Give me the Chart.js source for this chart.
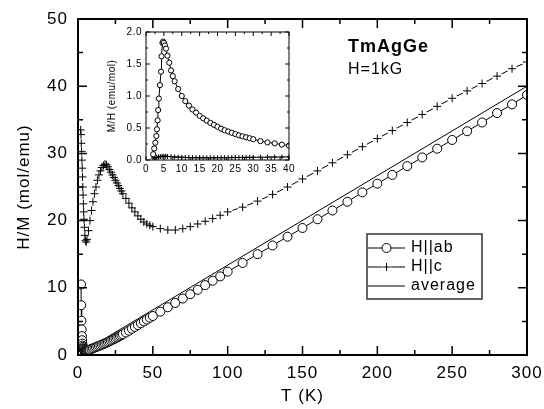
<!DOCTYPE html>
<html>
<head>
<meta charset="utf-8">
<script src="https://cdn.jsdelivr.net/npm/chart.js@4.4.0/dist/chart.umd.min.js"></script>
<style>
  html, body { margin: 0; padding: 0; background: #fff; }
  #wrap { position: relative; width: 544px; height: 409px; }
  #main { position: absolute; left: 0; top: 0; }
  #inset { position: absolute; left: 100px; top: 22px; }
</style>
</head>
<body>
<div id="wrap">
  <canvas id="main" width="544" height="409"></canvas>
  <canvas id="inset" width="196" height="158"></canvas>
</div>
<script>
// main panel: H/M vs T
const abT = [2.0, 2.15, 2.3, 2.45, 2.6, 2.75, 2.9, 3.05, 3.25, 3.4, 3.6, 3.9, 4.2, 4.35, 4.6, 4.8, 5.0, 5.3, 5.6, 6, 6.5, 7, 7.5, 8, 9,
  10, 11, 12, 13, 14, 15, 16, 17, 18, 19, 20, 21, 22, 23, 24, 25, 26, 27, 28, 29, 30,
  32, 34, 36, 38, 40, 42, 44, 46, 48, 50, 55, 60, 65, 70, 75, 80, 85, 90, 95, 100,
  110, 120, 130, 140, 150, 160, 170, 180, 190, 200, 210, 220, 230, 240, 250, 260, 270, 280, 290, 300];
const abHM = [10.5, 7.4, 5.1, 3.8, 2.8, 2.2, 1.7, 1.4, 1.2, 1.0, 0.9, 0.8, 0.7, 0.62, 0.55, 0.54, 0.55, 0.56, 0.58, 0.61, 0.66, 0.71, 0.76, 0.81, 0.9,
  1.0, 1.09, 1.18, 1.27, 1.36, 1.45, 1.54, 1.63, 1.73, 1.83, 1.93, 2.04, 2.15, 2.26, 2.37, 2.48, 2.6, 2.72, 2.84, 2.96, 3.1,
  3.35, 3.62, 3.9, 4.17, 4.45, 4.72, 5.0, 5.27, 5.55, 5.8, 6.45, 7.1, 7.75, 8.4, 9.05, 9.7, 10.4, 11.05, 11.7, 12.4,
  13.7, 15.0, 16.3, 17.6, 18.9, 20.2, 21.5, 22.8, 24.2, 25.5, 26.8, 28.1, 29.4, 30.7, 32.0, 33.3, 34.6, 36.0, 37.3, 38.7];

const cT = [1.8, 2.0, 2.2, 2.4, 2.6, 2.8, 3.0, 3.2, 3.4, 3.6, 3.8, 4.0, 4.3, 4.6, 5, 5.5, 6, 7, 8, 9,
  10, 11, 12, 13, 14, 15, 16, 17, 18, 19, 20, 21, 22, 23, 24, 25, 26, 27, 28, 29, 30,
  32, 34, 36, 38, 40, 42, 44, 46, 48, 50, 55, 60, 65, 70, 75, 80, 85, 90, 95, 100,
  110, 120, 130, 140, 150, 160, 170, 180, 190, 200, 210, 220, 230, 240, 250, 260, 270, 280, 290, 300];
const cHM = [33.5, 32.8, 31.5, 30.3, 29.0, 27.8, 26.5, 25.0, 23.8, 22.5, 21.3, 20.2, 19.0, 17.8, 17.0, 16.8, 17.2, 18.5, 20.0, 21.5,
  22.8, 24.0, 25.0, 26.0, 26.8, 27.4, 27.9, 28.2, 28.4, 28.3, 28.0, 27.6, 27.2, 26.8, 26.4, 26.0, 25.6, 25.2, 24.8, 24.4, 24.0,
  23.3, 22.6, 21.9, 21.3, 20.7, 20.2, 19.8, 19.5, 19.3, 19.1, 18.8, 18.6, 18.6, 18.8, 19.1, 19.5, 19.9, 20.3, 20.8, 21.3,
  22.0, 22.9, 23.9, 25.0, 26.2, 27.4, 28.6, 29.8, 31.0, 32.2, 33.4, 34.6, 35.8, 37.0, 38.2, 39.3, 40.4, 41.5, 42.6, 43.6];

const avgT = [1.8, 300];
const avgHM = [0.3, 40.0];

// inset: M/H vs T
const inAbT = [2.0, 2.3, 2.6, 2.9, 3.05, 3.25, 3.4, 3.6, 3.9, 4.2, 4.35, 4.6, 4.8, 5.0, 5.3, 5.6, 6.0, 6.5, 7.0, 7.5, 8, 9,
  10, 11, 12, 13, 14, 15, 16, 17, 18, 19, 20, 21, 22, 23, 24, 25, 26, 27, 28, 29, 30, 32, 34, 36, 38, 40];
const inAbMH = [0.09, 0.18, 0.27, 0.375, 0.48, 0.62, 0.78, 0.96, 1.17, 1.38, 1.62, 1.83, 1.85, 1.83, 1.79, 1.74, 1.63, 1.52, 1.40, 1.31, 1.23, 1.11,
  1.0, 0.92, 0.85, 0.79, 0.74, 0.69, 0.65, 0.615, 0.58, 0.55, 0.52, 0.49, 0.465, 0.445, 0.425, 0.405, 0.385, 0.37, 0.355, 0.34, 0.325, 0.295, 0.275, 0.26, 0.24, 0.225];

const inCT = [2, 2.5, 3, 3.5, 4, 4.5, 5, 5.5, 6, 7, 8, 9, 10, 11, 12, 13, 14, 15, 16, 17, 18, 19, 20,
  21, 22, 23, 24, 25, 26, 27, 28, 29, 30, 32, 34, 36, 38, 40];
const inCMH = [0.030, 0.034, 0.040, 0.047, 0.053, 0.058, 0.060, 0.058, 0.056, 0.051, 0.048, 0.044, 0.042, 0.040, 0.038, 0.037, 0.036, 0.036, 0.035, 0.035, 0.035, 0.035, 0.036,
  0.036, 0.037, 0.037, 0.038, 0.039, 0.039, 0.040, 0.041, 0.041, 0.042, 0.043, 0.044, 0.046, 0.047, 0.049];

const legendItems = ['H||ab', 'H||c', 'average'];
const sampleName = 'TmAgGe';
const fieldLabel = 'H=1kG';

const pts = (xs, ys) => xs.map((t, i) => ({ x: t, y: ys[i] }));
const FONT = "'Liberation Sans', Arial, sans-serif";

// inward ticks + frame on all four sides
const frameTicks = {
  id: 'frameTicks',
  afterDatasetsDraw(chart, args, o) {
    const { ctx, chartArea: a } = chart;
    const x = chart.scales.x, y = chart.scales.y;
    ctx.save();
    ctx.strokeStyle = '#000';
    ctx.lineWidth = o.tickWidth;
    ctx.beginPath();
    let i = 0;
    for (let v = x.min; v <= x.max + 1e-6; v += o.xStep / 2, i++) {
      const p = x.getPixelForValue(v);
      const len = i % 2 === 0 ? o.major : o.minor;
      ctx.moveTo(p, a.bottom); ctx.lineTo(p, a.bottom - len);
      ctx.moveTo(p, a.top); ctx.lineTo(p, a.top + len);
    }
    i = 0;
    for (let v = y.min; v <= y.max + 1e-6; v += o.yStep / 2, i++) {
      const p = y.getPixelForValue(v);
      const len = i % 2 === 0 ? o.major : o.minor;
      ctx.moveTo(a.left, p); ctx.lineTo(a.left + len, p);
      ctx.moveTo(a.right, p); ctx.lineTo(a.right - len, p);
    }
    ctx.stroke();
    ctx.lineWidth = o.frameWidth;
    ctx.strokeRect(a.left, a.top, a.right - a.left, a.bottom - a.top);
    ctx.restore();
  }
};

const spacing = {
  id: 'spacing',
  beforeDraw(chart, args, o) {
    chart.ctx.letterSpacing = o.value;
  }
};

const whiteArea = {
  id: 'whiteArea',
  beforeDraw(chart) {
    const { ctx, chartArea: a } = chart;
    ctx.save();
    ctx.fillStyle = '#fff';
    ctx.fillRect(a.left, a.top, a.right - a.left, a.bottom - a.top);
    ctx.restore();
  }
};

// legend box and sample label
const mainLabels = {
  id: 'mainLabels',
  afterDraw(chart) {
    const ctx = chart.ctx;
    ctx.save();
    ctx.letterSpacing = '1px';
    ctx.fillStyle = '#000';
    ctx.textBaseline = 'middle';
    ctx.font = 'bold 18px ' + FONT;
    ctx.fillText(sampleName, 348, 47);
    ctx.font = '16px ' + FONT;
    ctx.fillText(fieldLabel, 348, 70);

    ctx.strokeStyle = '#333';
    ctx.lineWidth = 1.5;
    ctx.strokeRect(367, 234, 115, 65);
    ctx.strokeStyle = '#000';
    ctx.lineWidth = 1;
    const rows = [248, 267, 286];
    legendItems.forEach((txt, k) => {
      const yy = rows[k];
      ctx.beginPath();
      ctx.moveTo(368, yy); ctx.lineTo(405, yy);
      ctx.stroke();
      if (k === 0) {
        ctx.beginPath();
        ctx.arc(386.5, yy, 4.5, 0, Math.PI * 2);
        ctx.fillStyle = '#fff'; ctx.fill(); ctx.stroke();
      } else if (k === 1) {
        ctx.fillStyle = '#fff';
        ctx.fillRect(382, yy - 4, 9, 8);
        ctx.beginPath();
        ctx.moveTo(382.5, yy); ctx.lineTo(390.5, yy);
        ctx.moveTo(386.5, yy - 4); ctx.lineTo(386.5, yy + 4);
        ctx.stroke();
      }
      ctx.fillStyle = '#000';
      ctx.font = '16px ' + FONT;
      ctx.fillText(txt, 411, yy);
    });
    ctx.restore();
  }
};

new Chart(document.getElementById('main'), {
  type: 'scatter',
  data: {
    datasets: [
      { label: 'H||ab', data: pts(abT, abHM), showLine: true, borderColor: '#000', borderWidth: 1,
        pointStyle: 'circle', pointRadius: 4.5, pointBackgroundColor: '#fff', pointBorderColor: '#000', pointBorderWidth: 1, order: 3 },
      { label: 'H||c line', data: pts(cT, cHM), showLine: true, borderColor: '#000', borderWidth: 1, pointRadius: 0, order: 4 },
      { label: 'gap', data: pts(cT, cHM), showLine: false, pointRadius: 5, pointBackgroundColor: '#fff', pointBorderWidth: 0, order: 2 },
      { label: 'H||c', data: pts(cT, cHM), showLine: false, pointStyle: 'cross', pointRadius: 4,
        pointBorderColor: '#000', pointBorderWidth: 1, order: 1 },
      { label: 'average', data: pts(avgT, avgHM), showLine: true, borderColor: '#000', borderWidth: 1, pointRadius: 0, order: 5 }
    ]
  },
  options: {
    responsive: false,
    animation: false,
    layout: { padding: { left: 0, right: 17, top: 19, bottom: 0 } },
    plugins: {
      legend: { display: false },
      tooltip: { enabled: false },
      frameTicks: { xStep: 50, yStep: 10, major: 9, minor: 5, tickWidth: 1.5, frameWidth: 2 },
      spacing: { value: '1px' }
    },
    scales: {
      x: {
        type: 'linear', min: 0, max: 300,
        grid: { display: false, drawTicks: false }, border: { display: false },
        ticks: { stepSize: 50, color: '#000', font: { family: FONT, size: 17 }, padding: 8, maxRotation: 0 },
        title: { display: true, text: 'T (K)', color: '#000', font: { family: FONT, size: 17 }, padding: 2 },
        afterFit: s => { s.height = 54; s.paddingLeft = 0; s.paddingRight = 0; }
      },
      y: {
        type: 'linear', min: 0, max: 50,
        grid: { display: false, drawTicks: false }, border: { display: false },
        ticks: { stepSize: 10, color: '#000', font: { family: FONT, size: 17 }, padding: 10 },
        title: { display: true, text: 'H/M (mol/emu)', color: '#000', font: { family: FONT, size: 17 }, padding: 14 },
        afterFit: s => { s.width = 78; s.paddingTop = 0; s.paddingBottom = 0; }
      }
    }
  },
  plugins: [spacing, frameTicks, mainLabels]
});

new Chart(document.getElementById('inset'), {
  type: 'scatter',
  data: {
    datasets: [
      { label: 'H||ab', data: pts(inAbT, inAbMH), showLine: true, borderColor: '#000', borderWidth: 1,
        pointStyle: 'circle', pointRadius: 2.6, pointBackgroundColor: '#fff', pointBorderColor: '#000', pointBorderWidth: 1, order: 1 },
      { label: 'H||c', data: pts(inCT, inCMH), showLine: true, borderColor: '#000', borderWidth: 1,
        pointStyle: 'cross', pointRadius: 2.5, pointBorderColor: '#000', pointBorderWidth: 1, order: 2 }
    ]
  },
  options: {
    responsive: false,
    animation: false,
    layout: { padding: { left: 0, right: 7, top: 10, bottom: 0 } },
    plugins: {
      legend: { display: false },
      tooltip: { enabled: false },
      frameTicks: { xStep: 5, yStep: 0.5, major: 4, minor: 2, tickWidth: 1, frameWidth: 1 },
      spacing: { value: '0.5px' }
    },
    scales: {
      x: {
        type: 'linear', min: 0, max: 40,
        grid: { display: false, drawTicks: false }, border: { display: false },
        ticks: { stepSize: 5, autoSkip: false, maxRotation: 0, color: '#000', font: { family: FONT, size: 10 }, padding: 3 },
        afterFit: s => { s.height = 20; s.paddingLeft = 0; s.paddingRight = 0; }
      },
      y: {
        type: 'linear', min: 0, max: 2,
        grid: { display: false, drawTicks: false }, border: { display: false },
        ticks: { stepSize: 0.5, color: '#000', font: { family: FONT, size: 10 }, padding: 4, callback: v => v.toFixed(1) },
        title: { display: true, text: 'M/H (emu/mol)', color: '#000', font: { family: FONT, size: 10 }, padding: 6 },
        afterFit: s => { s.width = 46; s.paddingTop = 0; s.paddingBottom = 0; }
      }
    }
  },
  plugins: [whiteArea, spacing, frameTicks]
});
</script>
</body>
</html>
